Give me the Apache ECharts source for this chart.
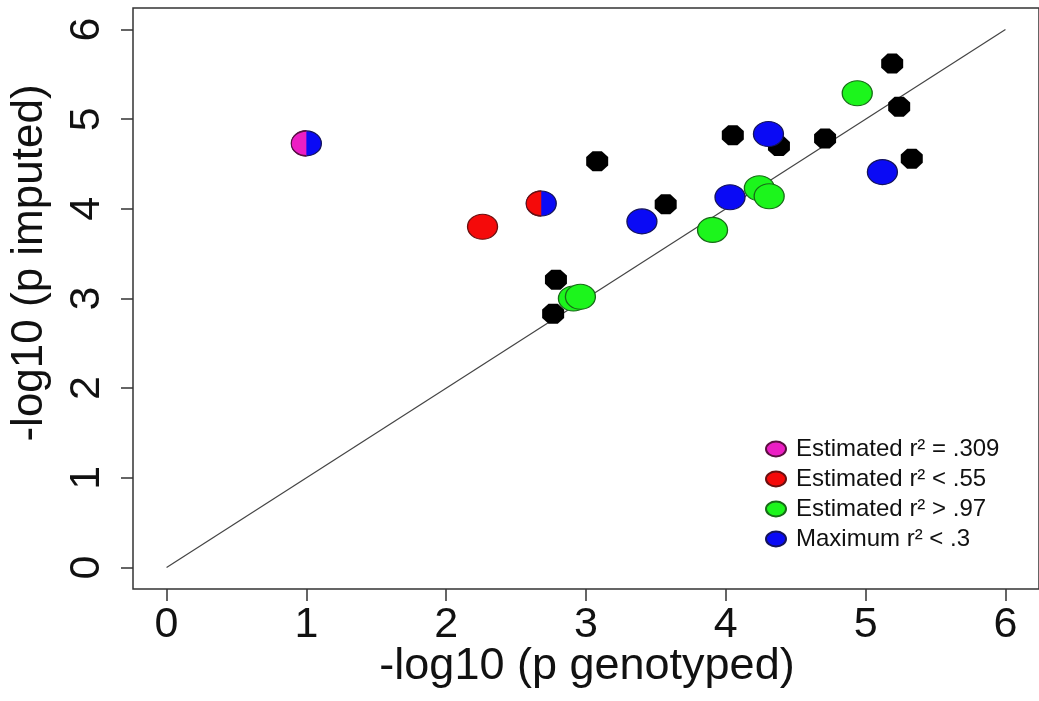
<!DOCTYPE html>
<html><head><meta charset="utf-8">
<script src="https://cdn.jsdelivr.net/npm/echarts@6/dist/echarts.min.js"></script>
<style>html,body{margin:0;padding:0;background:#fff}#c{width:1039px;height:701px}</style>
</head><body><div id="c"></div>
<script>
// ---- data ----
const xTicks = [0, 1, 2, 3, 4, 5, 6];
const yTicks = [0, 1, 2, 3, 4, 5, 6];
const blackPts = [[2.765, 2.83], [2.785, 3.21], [3.08, 4.53], [3.57, 4.05], [4.05, 4.82],
                  [4.38, 4.70], [4.71, 4.785], [5.19, 5.62], [5.24, 5.14], [5.33, 4.56]];
const greenPts = [[2.91, 3.00], [2.96, 3.02], [3.905, 3.765], [4.24, 4.23], [4.31, 4.14], [4.94, 5.29]];
const bluePts = [[3.40, 3.86], [4.03, 4.13], [4.305, 4.835], [5.12, 4.41]];
const redPts = [[2.26, 3.80]];
const pinkBluePts = [[1.0, 4.73]];   // pink (left) / blue (right)
const redBluePts = [[2.68, 4.06]];    // red (left) / blue (right)
const identityLine = [[0, 0], [6, 6]];
const legendNames = ['Estimated r² = .309', 'Estimated r² < .55', 'Estimated r² > .97', 'Maximum r² < .3'];
const xTitle = '-log10 (p genotyped)';
const yTitle = '-log10 (p imputed)';

// ---- styling ----
const FONT = 'Liberation Sans, Arial, sans-serif';
const ELLIPSE = 'path://M0,50A50,50,0,1,1,100,50A50,50,0,1,1,0,50Z';
const LEFT_HALF = 'path://M50,0A50,50,0,0,0,50,100';
const OCTAGON = 'path://M29,0L71,0L100,29L100,71L71,100L29,100L0,71L0,29Z';
const DOT = [30, 25];
const HALF = { symbol: LEFT_HALF, symbolSize: [15, 25], symbolOffset: [-7.5, 0] };

const chart = echarts.init(document.getElementById('c'), null, { renderer: 'canvas' });
chart.setOption({
  backgroundColor: '#fff',
  animation: false,
  grid: { left: 133, top: 8, width: 909, height: 581, show: true, borderColor: '#333', borderWidth: 1.5, backgroundColor: 'transparent' },
  xAxis: {
    type: 'value', min: -0.24, max: 6.24,
    splitLine: { show: false }, axisLine: { show: false, onZero: false },
    axisTick: { show: true, customValues: xTicks, length: 12, lineStyle: { color: '#333', width: 1.5 } },
    axisLabel: { customValues: xTicks, fontSize: 43, fontFamily: FONT, color: '#111', margin: 15 }
  },
  yAxis: {
    type: 'value', min: -0.24, max: 6.24,
    splitLine: { show: false }, axisLine: { show: false, onZero: false },
    axisTick: { show: true, customValues: yTicks, length: 12, lineStyle: { color: '#333', width: 1.5 } },
    axisLabel: { customValues: yTicks, fontSize: 43, fontFamily: FONT, color: '#111', margin: 24, rotate: 90 }
  },
  legend: {
    orient: 'vertical', left: 760, top: 432, itemWidth: 20, itemHeight: 15, itemGap: 6,
    symbolKeepAspect: false,
    textStyle: { fontSize: 24, fontFamily: FONT, color: '#111', padding: [0, 0, 0, 5] },
    data: legendNames.map(n => ({ name: n, icon: ELLIPSE }))
  },
  graphic: [
    { type: 'text', x: 587, y: 667, style: { text: xTitle, font: '45px ' + FONT, fill: '#111', align: 'center', verticalAlign: 'middle' } },
    { type: 'text', x: 30, y: 263, rotation: Math.PI / 2, style: { text: yTitle, font: '44px ' + FONT, fill: '#111', align: 'center', verticalAlign: 'middle' } }
  ],
  series: [
    { type: 'line', data: identityLine, symbol: 'none', silent: true, lineStyle: { color: '#444', width: 1.2 }, z: 1 },
    { name: 'black', type: 'scatter', data: blackPts, symbol: OCTAGON, symbolSize: [22, 20], itemStyle: { color: '#000', opacity: 1 }, z: 2 },
    { name: legendNames[2], type: 'scatter', data: greenPts, symbol: ELLIPSE, symbolSize: DOT,
      itemStyle: { color: '#1cf51c', borderColor: '#176b17', borderWidth: 1.2, opacity: 1 }, z: 3 },
    { name: legendNames[3], type: 'scatter', data: bluePts.concat(pinkBluePts, redBluePts), symbol: ELLIPSE, symbolSize: DOT,
      itemStyle: { color: '#0a0af5', borderColor: '#14145a', borderWidth: 1.2, opacity: 1 }, z: 4 },
    { name: legendNames[1], type: 'scatter', symbol: ELLIPSE, symbolSize: DOT,
      data: redPts.map(p => ({ value: p })).concat(redBluePts.map(p => Object.assign({ value: p }, HALF))),
      itemStyle: { color: '#f50a0a', borderColor: '#6a1010', borderWidth: 1.2, opacity: 1 }, z: 5 },
    { name: legendNames[0], type: 'scatter', data: pinkBluePts.map(p => Object.assign({ value: p }, HALF)),
      itemStyle: { color: '#ec1ec4', borderColor: '#5a1040', borderWidth: 1.2, opacity: 1 }, z: 6 }
  ]
});
</script></body></html>
